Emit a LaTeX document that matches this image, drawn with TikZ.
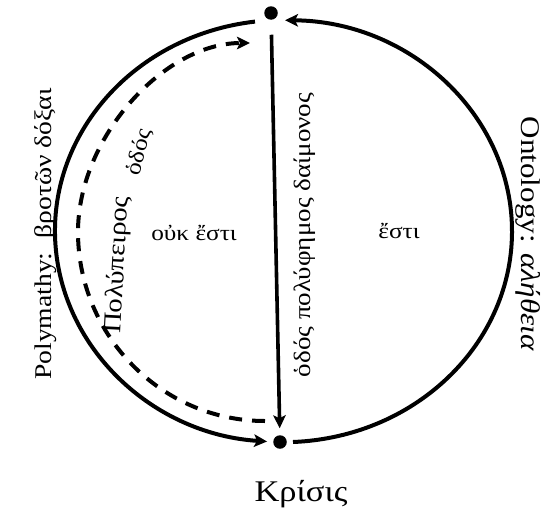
\documentclass[tikz,border=0pt]{standalone}
\usepackage{fontspec}
\setmainfont[FakeStretch=1.15]{Liberation Serif}
\usetikzlibrary{arrows.meta}
\newcommand{\fs}[1]{\fontsize{#1}{#1}\selectfont}
\begin{document}
\begin{tikzpicture}[x=1pt,y=-1pt, line width=4pt,
  dot/.style={circle,fill,inner sep=0pt,minimum size=13.5pt},
  tip/.style={-{Stealth[length=13pt,width=12.5pt,inset=3pt]}},
  lbl/.style={inner sep=0pt}]
\useasboundingbox (0,0) rectangle (553,514);
\node[dot] (top) at (271,13) {};
\node[dot] (bot) at (280,442) {};
\coordinate (l0) at (255,21.6);
\coordinate (r0) at (293,442);
\coordinate (d0) at (265,421);
\coordinate (dl) at (78,232);
\coordinate (d1) at (250,43);
\draw[tip] (l0) arc[start angle=262.95, end angle=94, x radius=228, y radius=211];
\draw[tip] (r0) arc[start angle=87.5, end angle=-89.5, x radius=229, y radius=211];
\draw[tip, dash pattern=on 13pt off 10pt] (d0) .. controls (162,421) and (78,336) .. (dl)
   .. controls (78,137.5) and (164,43) .. (d1);
\draw[tip, line width=3.6pt, shorten <=13pt, shorten >=5pt] (top) -- (bot);
\node[lbl, font=\fs{30}] (kr) at (301,494) {Κρίσις};
\node[lbl, font=\fs{22}] (ouk) at (194,233) {οὐκ ἔστι};
\node[lbl, font=\fs{22}] (esti) at (399,231) {ἔστι};
\node[lbl, font=\fs{23.5}, rotate=90] (hodos) at (305,235) {ὁδός πολύφημος δαίμονος};
\node[lbl, font=\fs{24}, rotate=90] (poly) at (46,234) {Polymathy:\ \ βροτῶν δόξαι};
\node[lbl, font=\fs{27}, rotate=-90] (onto) at (528,234) {Ontology: \textit{αλήθεια}};
\node[lbl, font=\fs{25}, rotate=87] (pol1) at (118,265) {Πολύπειρος};
\node[lbl, font=\fs{22}, rotate=76] (pol2) at (140,152) {ὁδός};
\end{tikzpicture}
\end{document}
